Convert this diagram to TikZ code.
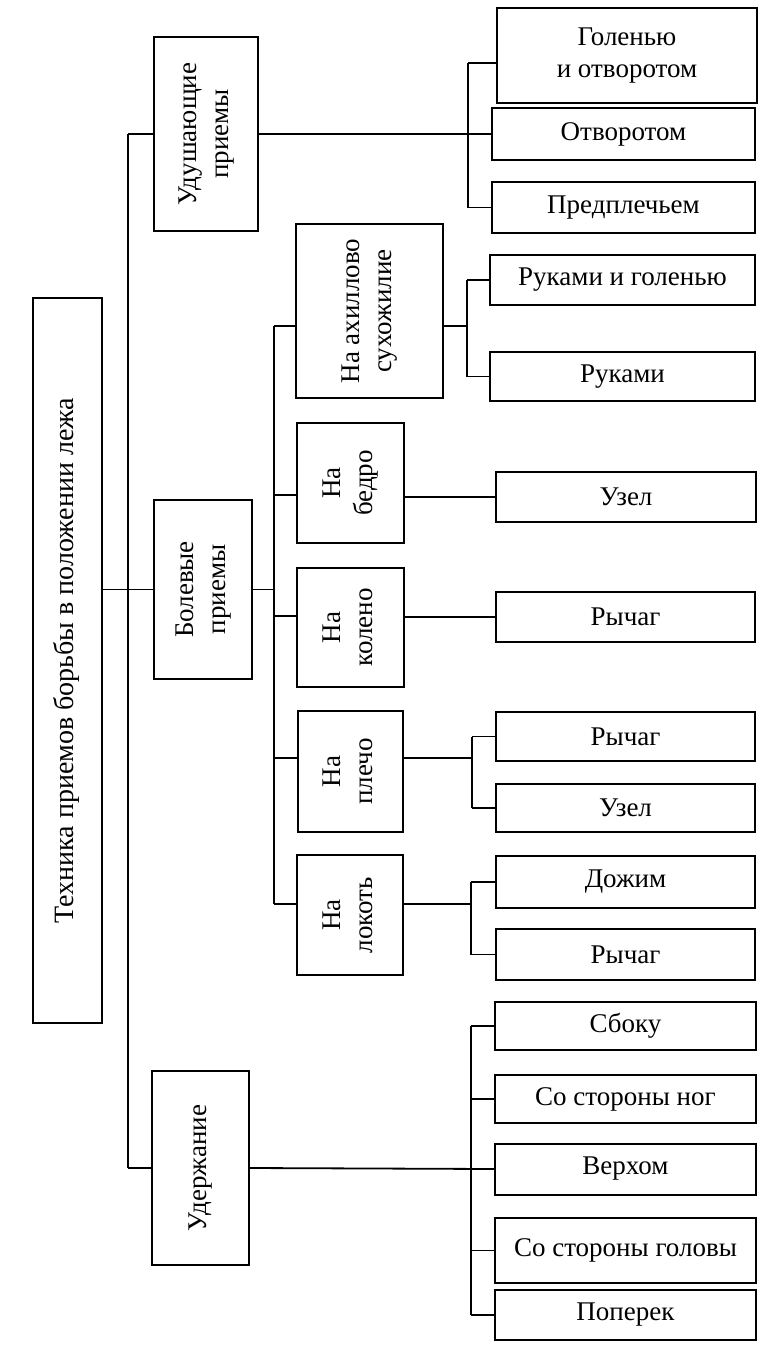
\documentclass[tikz,border=0pt]{standalone}
\usepackage{fontspec}
\setmainfont{Liberation Serif}
\newcommand{\vlab}[1]{\rotatebox{90}{\begin{tabular}{@{}c@{}}#1\end{tabular}}}
\begin{document}
\begin{tikzpicture}[x=1pt,y=-1pt,
  box/.style={draw, line width=2pt, inner sep=0pt, align=center, font=\fontsize{27}{32}\selectfont},
  ln/.style={line width=1.8pt}]
\useasboundingbox (0,0) rectangle (760,1354);
% level 0
\node[box, minimum width=69pt, minimum height=725pt, font=\fontsize{28}{32}\selectfont] (root) at (67.5,660.5) {\vlab{Техника приемов борьбы в положении лежа}};
% level 1
\node[box, minimum width=104pt, minimum height=193pt] (ud) at (206,134) {\vlab{Удушающие\\приемы}};
\node[box, minimum width=98pt, minimum height=179pt] (bol) at (203,589.5) {\vlab{Болевые\\приемы}};
\node[box, minimum width=97pt, minimum height=194pt] (uder) at (200.5,1168) {\vlab{Удержание}};
% level 2 (bol)
\node[box, minimum width=147pt, minimum height=174pt] (ax) at (369.5,311) {\vlab{На ахиллово\\сухожилие}};
\node[box, minimum width=107pt, minimum height=120pt] (bed) at (350.5,483) {\vlab{На\\бедро}};
\node[box, minimum width=107pt, minimum height=119pt] (kol) at (350.5,627.5) {\vlab{На\\колено}};
\node[box, minimum width=105pt, minimum height=121pt] (pl) at (350.5,771.5) {\vlab{На\\плечо}};
\node[box, minimum width=106pt, minimum height=120pt] (lok) at (350,915) {\vlab{На\\локоть}};
% leaves
\node[box, minimum width=260pt, minimum height=95pt] (gol) at (627,55.5) {Голенью\\и отворотом};
\node[box, minimum width=263pt, minimum height=52pt] (otv) at (623.5,134) {Отворотом};
\node[box, minimum width=263pt, minimum height=51pt] (pred) at (623.5,207.5) {Предплечьем};
\node[box, minimum width=265pt, minimum height=50pt] (rig) at (622.5,280) {Руками и голенью};
\node[box, minimum width=265pt, minimum height=49pt] (ruk) at (622.5,376.5) {Руками};
\node[box, minimum width=260pt, minimum height=50pt] (uza) at (626,497) {Узел};
\node[box, minimum width=259pt, minimum height=50pt] (rya) at (625.5,617) {Рычаг};
\node[box, minimum width=259pt, minimum height=49pt] (ryb) at (625.5,736.5) {Рычаг};
\node[box, minimum width=259pt, minimum height=48pt] (uzb) at (625.5,808) {Узел};
\node[box, minimum width=259pt, minimum height=52pt] (dog) at (625.5,882) {Дожим};
\node[box, minimum width=259pt, minimum height=51pt] (ryc) at (625.5,954.5) {Рычаг};
\node[box, minimum width=261pt, minimum height=48pt] (sbo) at (625.5,1026) {Сбоку};
\node[box, minimum width=261pt, minimum height=48pt] (nog) at (625.5,1099) {Со стороны ног};
\node[box, minimum width=261pt, minimum height=51pt] (ver) at (625.5,1169) {Верхом};
\node[box, minimum width=261pt, minimum height=65pt] (gov) at (625.5,1250.5) {Со стороны головы};
\node[box, minimum width=261pt, minimum height=50pt] (pop) at (625.5,1315) {Поперек};
% trunk
\coordinate (T) at (128,0);
\draw[ln] (ud.west -| T) -- (uder.west -| T);
\draw[ln] (ud.west -| T) -- (ud.west);
\draw[ln] (uder.west -| T) -- (uder.west);
\draw[ln] (root.east |- bol.west) -- (bol.west);
% ud group
\coordinate (B1) at (468,0);
\coordinate (g1) at (468,63);
\draw[ln] (ud.east) -- (otv.west);
\draw[ln] (g1) -- (B1 |- pred.west) -- (pred.west);
\draw[ln] (g1) -- (g1 -| gol.west);
% bol group
\coordinate (B2) at (274,0);
\coordinate (axL) at (274,326);
\coordinate (bedL) at (274,495);
\coordinate (kolL) at (274,616);
\coordinate (plL) at (274,758);
\coordinate (lokL) at (274,904);
\draw[ln] (bol.east) -- (bol.east -| B2);
\draw[ln] (axL) -- (lokL);
\draw[ln] (axL) -- (axL -| ax.west);
\draw[ln] (bedL) -- (bedL -| bed.west);
\draw[ln] (kolL) -- (kolL -| kol.west);
\draw[ln] (plL) -- (plL -| pl.west);
\draw[ln] (lokL) -- (lokL -| lok.west);
% ax group
\coordinate (B3) at (467,0);
\draw[ln] (axL -| ax.east) -- (axL -| B3);
\draw[ln] (B3 |- rig.west) -- (B3 |- ruk.west);
\draw[ln] (B3 |- rig.west) -- (rig.west);
\draw[ln] (B3 |- ruk.west) -- (ruk.west);
% bedro, koleno
\draw[ln] (bed.east |- uza.west) -- (uza.west);
\draw[ln] (kol.east |- rya.west) -- (rya.west);
% plecho
\coordinate (B4) at (472,0);
\draw[ln] (plL -| pl.east) -- (plL -| B4);
\draw[ln] (B4 |- ryb.west) -- (B4 |- uzb.west);
\draw[ln] (B4 |- ryb.west) -- (ryb.west);
\draw[ln] (B4 |- uzb.west) -- (uzb.west);
% lokot
\coordinate (B5) at (471,0);
\draw[ln] (lokL -| lok.east) -- (lokL -| B5);
\draw[ln] (B5 |- dog.west) -- (B5 |- ryc.west);
\draw[ln] (B5 |- dog.west) -- (dog.west);
\draw[ln] (B5 |- ryc.west) -- (ryc.west);
% uder group
\coordinate (B6) at (471,0);
\draw[ln] (uder.east) -- (ver.west);
\draw[ln] (B6 |- sbo.west) -- (B6 |- pop.west);
\draw[ln] (B6 |- sbo.west) -- (sbo.west);
\draw[ln] (B6 |- nog.west) -- (nog.west);
\draw[ln] (B6 |- gov.west) -- (gov.west);
\draw[ln] (B6 |- pop.west) -- (pop.west);
\end{tikzpicture}
\end{document}
